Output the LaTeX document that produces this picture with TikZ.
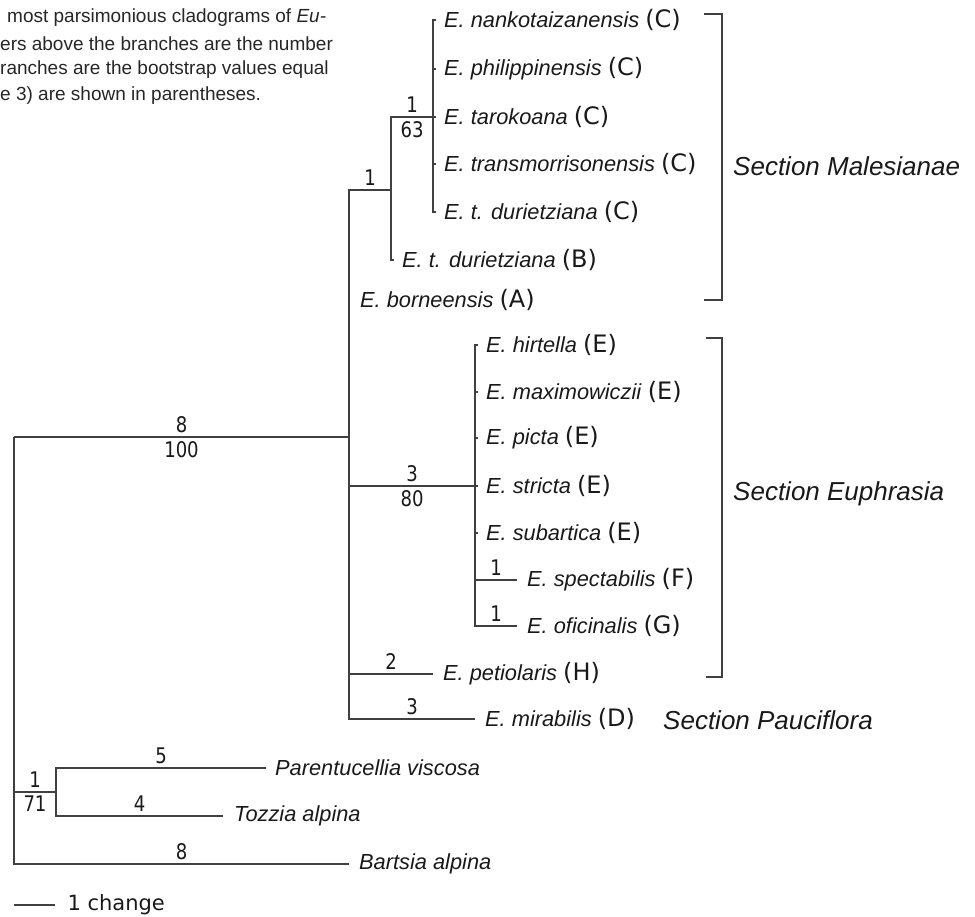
\documentclass[tikz,border=0pt]{standalone}
\usepackage{fontspec}
\setmainfont{Liberation Sans}
\newfontfamily\numfont[FakeStretch=0.84]{DejaVu Sans}
\newfontfamily\letterfont{DejaVu Sans}
\usetikzlibrary{positioning}

% species name with its group letter
\newcommand{\spname}[2]{\textit{#1} {\letterfont\fontsize{24}{26}\selectfont(#2)}}

\begin{document}
\begin{tikzpicture}[
    x=1pt, y=-1pt,
    branch/.style={draw=black!75, line width=1.1pt},
    taxon/.style={font=\fontsize{21.8}{25}\selectfont, inner sep=0pt, anchor=west, text=black!90},
    num/.style={font=\numfont\fontsize{21.5}{24}\selectfont, inner sep=3.5pt, text=black!90},
    section/.style={font=\itshape\fontsize{26}{30}\selectfont, inner sep=0pt, anchor=west, text=black!90},
    caption/.style={font=\fontsize{19}{22}\selectfont, inner sep=0pt, anchor=west, text=black!85}
]
\useasboundingbox (0,0) rectangle (975,917);

% Caption fragment
\node[caption] (cap1) at (7,18) {most parsimonious cladograms of \textit{Eu-}};
\node[caption] (cap2) at (0,44) {ers above the branches are the number};
\node[caption] (cap3) at (0,70) {ranches are the bootstrap values equal};
\node[caption] (cap4) at (0,96) {e 3) are shown in parentheses.};

% Internal nodes
\coordinate (root) at (14,437);
\coordinate (ingroup) at (349,437);
\coordinate (mal) at (391,190);
\coordinate (malcore) at (433,117);
\coordinate (euph) at (475,486);
\coordinate (outgrp) at (56,792);

% Leaves
\coordinate (nanko) at (436,20);
\coordinate (phil) at (436,69);
\coordinate (taro) at (436,117);
\coordinate (trans) at (436,164);
\coordinate (durC) at (436,212);
\coordinate (durB) at (394,260);
\coordinate (born) at (349,300);
\coordinate (hirt) at (478,345);
\coordinate (maxi) at (478,392);
\coordinate (picta) at (478,438);
\coordinate (stricta) at (478,486);
\coordinate (subar) at (478,533);
\coordinate (spect) at (517,580);
\coordinate (ofic) at (517,626);
\coordinate (petio) at (433,674);
\coordinate (mirab) at (475,719);
\coordinate (parent) at (266,768);
\coordinate (tozzia) at (223,816);
\coordinate (bartsia) at (349,864);

% Branches
\draw[branch] (root) -- node[num,above]{8} node[num,below]{100} (ingroup);
\draw[branch] (root) |- node[num,above,pos=.75]{1} node[num,below,pos=.75]{71} (outgrp);
\draw[branch] (root) |- node[num,above,pos=.75]{8} (bartsia);
\draw[branch] (outgrp) |- node[num,above,pos=.75]{5} (parent);
\draw[branch] (outgrp) |- node[num,above,pos=.75]{4} (tozzia);
\draw[branch] (ingroup) |- node[num,above,pos=.75]{1} (mal);
\draw[branch] (ingroup) |- (born);
\draw[branch] (ingroup) |- node[num,above,pos=.75]{3} node[num,below,pos=.75]{80} (euph);
\draw[branch] (ingroup) |- node[num,above,pos=.75]{2} (petio);
\draw[branch] (ingroup) |- node[num,above,pos=.75]{3} (mirab);
\draw[branch] (mal) |- node[num,above,pos=.75]{1} node[num,below,pos=.75]{63} (malcore);
\draw[branch] (mal) |- (durB);
\foreach \leaf in {nanko,phil,taro,trans,durC}
    \draw[branch] (malcore) |- (\leaf);
\foreach \leaf in {hirt,maxi,picta,stricta,subar}
    \draw[branch] (euph) |- (\leaf);
\draw[branch] (euph) |- node[num,above,pos=.75]{1} (spect);
\draw[branch] (euph) |- node[num,above,pos=.75]{1} (ofic);

% Section Malesianae taxa
\node[taxon, right=8pt of nanko] (lnanko) {\spname{E. nankotaizanensis}{C}};
\node[taxon, right=8pt of phil] (lphil) {\spname{E. philippinensis}{C}};
\node[taxon, right=8pt of taro] (ltaro) {\spname{E. tarokoana}{C}};
\node[taxon, right=8pt of trans] (ltrans) {\spname{E. transmorrisonensis}{C}};
\node[taxon, right=8pt of durC] (ldurC) {\spname{E. t. durietziana}{C}};
\node[taxon, right=8pt of durB] (ldurB) {\spname{E. t. durietziana}{B}};
\node[taxon, right=11pt of born] (lborn) {\spname{E. borneensis}{A}};

% Section Euphrasia taxa
\node[taxon, right=8pt of hirt] (lhirt) {\spname{E. hirtella}{E}};
\node[taxon, right=8pt of maxi] (lmaxi) {\spname{E. maximowiczii}{E}};
\node[taxon, right=8pt of picta] (lpicta) {\spname{E. picta}{E}};
\node[taxon, right=8pt of stricta] (lstricta) {\spname{E. stricta}{E}};
\node[taxon, right=8pt of subar] (lsubar) {\spname{E. subartica}{E}};
\node[taxon, right=10pt of spect] (lspect) {\spname{E. spectabilis}{F}};
\node[taxon, right=10pt of ofic] (lofic) {\spname{E. oficinalis}{G}};
\node[taxon, right=10pt of petio] (lpetio) {\spname{E. petiolaris}{H}};
\node[taxon, right=10pt of mirab] (lmirab) {\spname{E. mirabilis}{D}};

% Outgroups
\node[taxon, right=9pt of parent] (lparent) {\textit{Parentucellia viscosa}};
\node[taxon, right=11pt of tozzia] (ltozzia) {\textit{Tozzia alpina}};
\node[taxon, right=10pt of bartsia] (lbartsia) {\textit{Bartsia alpina}};

% Section brackets
\coordinate (maltop) at (704,14);
\coordinate (malbot) at (704,300);
\coordinate (euptop) at (706,338);
\coordinate (eupbot) at (706,677);
\draw[branch] (maltop) -| (722,157) |- (malbot);
\draw[branch] (euptop) -| (722,500) |- (eupbot);
\node[section] (secmal) at (733,166) {Section Malesianae};
\node[section] (seceup) at (733,494) {Section Euphrasia};
\node[section] (secpau) at (663,720) {Section Pauciflora};

% Scale bar
\coordinate (scale) at (14,905);
\draw[branch] (scale) -- ++(41,0) node[right=12pt, inner sep=0pt, font=\letterfont\fontsize{21}{24}\selectfont, text=black!90] (lscale) {1 change};

\end{tikzpicture}
\end{document}
